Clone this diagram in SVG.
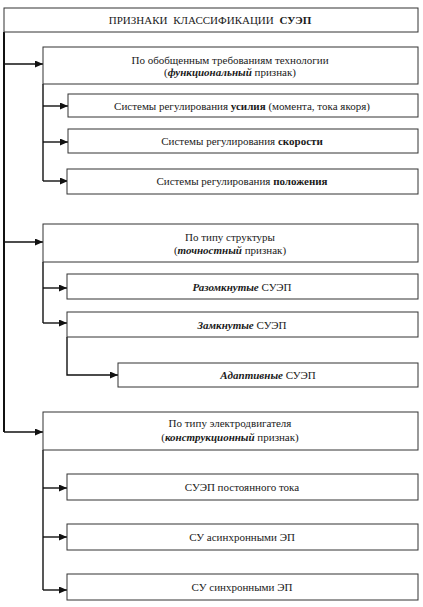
<svg xmlns="http://www.w3.org/2000/svg" width="423" height="607" viewBox="0 0 423 607">
<defs>
<marker id="ah" markerWidth="8" markerHeight="7" refX="8" refY="3.5" orient="auto" markerUnits="userSpaceOnUse">
<path d="M0,0 L8,3.5 L0,7 Z" fill="#111"/>
</marker>
<style>
.box{fill:#fff;stroke:#333;stroke-width:1}
.b{font-weight:bold}
.bi{font-weight:bold;font-style:italic}
.ln{fill:none;stroke:#111;stroke-width:1.4}
.tr{fill:none;stroke:#111;stroke-width:2}
</style>
</defs>
<rect width="423" height="607" fill="#fff"/>
<g id="connectors">
<path class="tr" d="M4,32 V432"/>
<path class="ln" d="M4,64 H43" marker-end="url(#ah)"/>
<path class="ln" d="M4,242 H43" marker-end="url(#ah)"/>
<path class="ln" d="M4,432 H43" marker-end="url(#ah)"/>
<path class="ln" d="M43,84 V181"/>
<path class="ln" d="M43,106 H68" marker-end="url(#ah)"/>
<path class="ln" d="M43,142 H68" marker-end="url(#ah)"/>
<path class="ln" d="M43,181 H68" marker-end="url(#ah)"/>
<path class="ln" d="M43,262 V323"/>
<path class="ln" d="M43,288 H67" marker-end="url(#ah)"/>
<path class="ln" d="M43,323 H67" marker-end="url(#ah)"/>
<path class="ln" d="M67,337 V375 H118" marker-end="url(#ah)"/>
<path class="ln" d="M43,450 V590"/>
<path class="ln" d="M43,488 H67" marker-end="url(#ah)"/>
<path class="ln" d="M43,537 H67" marker-end="url(#ah)"/>
<path class="ln" d="M43,590 H67" marker-end="url(#ah)"/>
</g>
<g font-family="Liberation Serif, Times New Roman, serif" font-size="11" fill="#1a1a1a" text-anchor="middle">
<g id="root"><rect class="box" x="4" y="8" width="414" height="24"/><text x="210" y="24" word-spacing="3">ПРИЗНАКИ КЛАССИФИКАЦИИ <tspan class="b">СУЭП</tspan></text></g>
<g id="func"><rect class="box" x="43" y="47" width="375" height="37"/><text x="230" y="64">По обобщенным требованиям технологии</text><text x="230" y="76">(<tspan class="bi">функциональный</tspan> признак)</text></g>
<g id="force"><rect class="box" x="68" y="94" width="350" height="23"/><text x="242" y="110">Системы регулирования <tspan class="b">усилия</tspan> (момента, тока якоря)</text></g>
<g id="speed"><rect class="box" x="68" y="129" width="350" height="24"/><text x="242" y="145">Системы регулирования <tspan class="b">скорости</tspan></text></g>
<g id="position"><rect class="box" x="67" y="169" width="351" height="25"/><text x="242" y="185">Системы регулирования <tspan class="b">положения</tspan></text></g>
<g id="struct"><rect class="box" x="43" y="224" width="375" height="38"/><text x="230" y="241">По типу структуры</text><text x="230" y="254">(<tspan class="bi">точностный</tspan> признак)</text></g>
<g id="open"><rect class="box" x="67" y="274" width="351" height="25"/><text x="242" y="291"><tspan class="bi">Разомкнутые</tspan> СУЭП</text></g>
<g id="closed"><rect class="box" x="67" y="312" width="351" height="25"/><text x="242" y="329"><tspan class="bi">Замкнутые</tspan> СУЭП</text></g>
<g id="adaptive"><rect class="box" x="118" y="363" width="300" height="24"/><text x="268" y="379"><tspan class="bi">Адаптивные</tspan> СУЭП</text></g>
<g id="motor"><rect class="box" x="43" y="412" width="375" height="38"/><text x="230" y="427">По типу электродвигателя</text><text x="230" y="441">(<tspan class="bi">конструкционный</tspan> признак)</text></g>
<g id="dc"><rect class="box" x="67" y="474" width="351" height="26"/><text x="242" y="491">СУЭП постоянного тока</text></g>
<g id="async"><rect class="box" x="67" y="524" width="351" height="26"/><text x="242" y="541">СУ асинхронными ЭП</text></g>
<g id="sync"><rect class="box" x="67" y="574" width="351" height="26"/><text x="242" y="591">СУ синхронными ЭП</text></g>
</g>
</svg>
